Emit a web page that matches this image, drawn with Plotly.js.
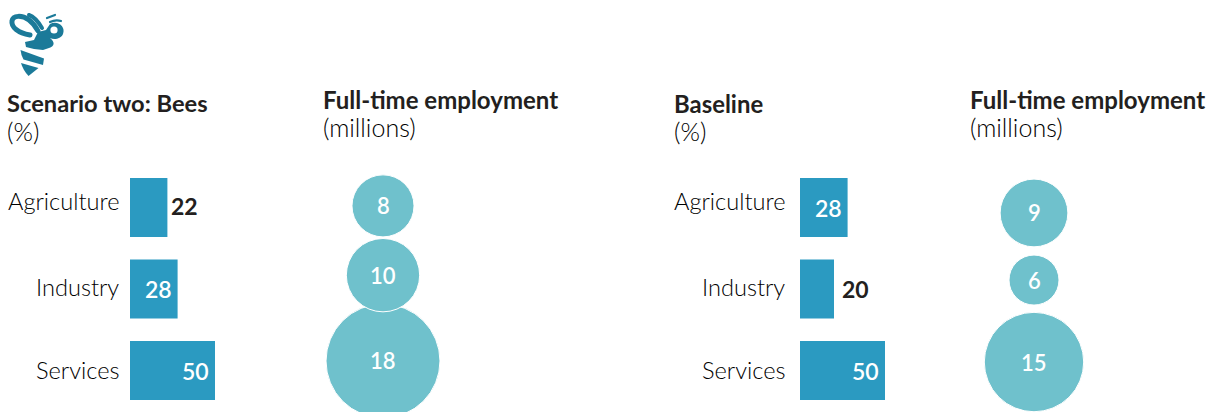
<!DOCTYPE html>
<html>
<head>
<meta charset="utf-8">
<script src="https://cdn.plot.ly/plotly-3.0.1.min.js"></script>
<style>html,body{margin:0;padding:0;background:#fff;overflow:hidden}</style>
</head>
<body>
<div id="chart" style="width:1209px;height:412px"></div>
<script>
var categories = ['Agriculture', 'Industry', 'Services'];
var scenarioShares = [22, 28, 50];
var baselineShares = [28, 20, 50];
var scenarioJobs = [8, 10, 18];
var baselineJobs = [9, 6, 15];
var scenarioBubbleRows = [-0.02, 0.83, 1.883];
var baselineBubbleRows = [0.067, 0.89, 1.896];
var scenarioTitle = 'Scenario two: Bees';
var baselineTitle = 'Baseline';
var jobsTitle = 'Full-time employment';
var shareUnit = '(%)';
var jobsUnit = '(millions)';

var W = 1209, H = 412;
var INK = '#231f20', LIGHT_INK = '#000000', BAR = '#2b9ac1', BUB = '#6fc1cc';
var rows = categories.map(function (_, i) { return i; });

function dia(v) { return 50 * Math.pow(v / 6, 0.75); }
function dom(a, b) { return [a / W, b / W]; }

function barTrace(vals, xa) {
  return {
    type: 'bar', orientation: 'h', xaxis: xa, yaxis: 'y',
    x: vals, y: rows, width: 0.724, marker: { color: BAR, line: { width: 0 } },
    cliponaxis: false, hoverinfo: 'skip'
  };
}
function bubbleTrace(vals, pos, xa) {
  var order = rows.slice().reverse();
  return {
    type: 'scatter', mode: 'markers', xaxis: xa, yaxis: 'y', cliponaxis: false,
    x: order.map(function () { return 0; }),
    y: order.map(function (i) { return pos[i]; }),
    marker: {
      color: BUB, sizemode: 'diameter', sizeref: 1,
      size: order.map(function (i) { return dia(vals[i]); }),
      line: { color: '#ffffff', width: 1 }, opacity: 1
    },
    hoverinfo: 'skip'
  };
}
function hidden(d, extra) {
  var a = { domain: d, visible: false, fixedrange: true, anchor: 'y' };
  for (var k in extra) a[k] = extra[k];
  return a;
}
function note(text, x, y, size, weight, anchor) {
  return {
    xref: 'paper', yref: 'paper', x: x / W, y: 1 - y / H, text: text, showarrow: false,
    xanchor: anchor || 'left', yanchor: 'middle', align: anchor || 'left',
    font: { family: 'Lato', size: size, color: weight < 400 ? LIGHT_INK : INK, weight: weight },
    borderpad: 0, borderwidth: 0
  };
}
function valueNote(xref, x, y, text, color, weight, anchor, xshift, yshift, size) {
  return {
    xref: xref, yref: 'y', x: x, y: y, text: text, showarrow: false,
    xanchor: anchor, yanchor: 'middle', xshift: xshift, yshift: yshift,
    font: { family: 'Lato', size: size, color: color, weight: weight },
    borderpad: 0, borderwidth: 0
  };
}
function barNotes(vals, xref, outsideShift) {
  return vals.map(function (v, i) {
    return v > 25
      ? valueNote(xref, v, i, String(v), '#ffffff', 600, 'right', -6, 0, 23)
      : valueNote(xref, v, i, String(v), INK, 700, 'left', outsideShift, i === 0 ? 2 : 0, 23);
  });
}
function bubbleNotes(vals, pos, xref) {
  return vals.map(function (v, i) {
    return valueNote(xref, 0, pos[i], String(v), '#ffffff', 600, 'center', 0, 0, 22);
  });
}

var beeSvg = '<svg xmlns="http://www.w3.org/2000/svg" viewBox="0 0 80 80" width="240" height="240">' +
  '<g fill="none" stroke="#1b7a99" stroke-linecap="round">' +
  '<path d="M30 35 C18 33 11 27 12 21 C13 15 22 15 29 20 C33 23 36 27 38 31" stroke-width="5"/>' +
  '<path d="M29 15 C35 17 39 23 42 28" stroke-width="4"/>' +
  '<path d="M47 18 L55 15" stroke-width="2.2"/>' +
  '<path d="M50 22 C54 20 58 20 61 21" stroke-width="2.2"/>' +
  '</g>' +
  '<path fill="#1b7a99" d="M25 42 L34 40 L38 32 L46 30 L50 24 C58 20 66 27 63 34 C61 39 54 40 50 38 C55 42 55 46 49 48 L43 50 L34 49 L26 47 Z"/>' +
  '<circle cx="54" cy="30" r="3.6" fill="#fff"/>' +
  '<path fill="#1b7a99" d="M20.5 50 L44 58.5 L43 65 L23.5 59.5 Q21 55 20.5 50 Z"/>' +
  '<path fill="#1b7a99" d="M21 63 L38.5 68 L28.5 76 Q23 70 21 63 Z"/>' +
  '</svg>';

var traces = [
  barTrace(scenarioShares, 'x'),
  bubbleTrace(scenarioJobs, scenarioBubbleRows, 'x2'),
  barTrace(baselineShares, 'x3'),
  bubbleTrace(baselineJobs, baselineBubbleRows, 'x4')
];

var annotations = [
  note(scenarioTitle, 7, 103.5, 23.7, 700),
  note(shareUnit, 7, 131, 25, 300),
  note(jobsTitle, 323, 99.5, 24, 700),
  note(jobsUnit, 323, 127.5, 25, 300),
  note(baselineTitle, 674, 103.5, 23.9, 700),
  note(shareUnit, 674, 131, 25, 300),
  note(jobsTitle, 970, 99.5, 24, 700),
  note(jobsUnit, 970, 127.5, 25, 300)
].concat(
  barNotes(scenarioShares, 'x', 4),
  barNotes(baselineShares, 'x3', 8),
  bubbleNotes(scenarioJobs, scenarioBubbleRows, 'x2'),
  bubbleNotes(baselineJobs, baselineBubbleRows, 'x4')
);
var labelY = [201, 287, 370];
categories.forEach(function (c, i) {
  annotations.push(note(c, 119, labelY[i], 23.6, 300, 'right'));
  annotations.push(note(c, 785, labelY[i], 23.6, 300, 'right'));
});

var layout = {
  width: W, height: H, margin: { l: 0, r: 0, t: 0, b: 0, pad: 0 },
  paper_bgcolor: '#fff', plot_bgcolor: '#fff', showlegend: false, barmode: 'overlay',
  font: { family: 'Lato', color: INK },
  xaxis: hidden(dom(130, 300), { range: [0, 100] }),
  xaxis2: hidden(dom(310, 456), { range: [-1, 1] }),
  xaxis3: hidden(dom(800, 970), { range: [0, 100] }),
  xaxis4: hidden(dom(961, 1107), { range: [-1, 1] }),
  yaxis: { domain: [0, 1], visible: false, fixedrange: true, range: [2.509, -2.546], anchor: 'x' },
  annotations: annotations,
  images: [{
    source: 'data:image/svg+xml;charset=utf-8,' + encodeURIComponent(beeSvg),
    xref: 'paper', yref: 'paper', x: 0, y: 1, sizex: 80 / W, sizey: 80 / H,
    xanchor: 'left', yanchor: 'top', sizing: 'stretch', layer: 'above'
  }]
};
Plotly.newPlot('chart', traces, layout, { displayModeBar: false, staticPlot: true });
</script>
</body>
</html>
